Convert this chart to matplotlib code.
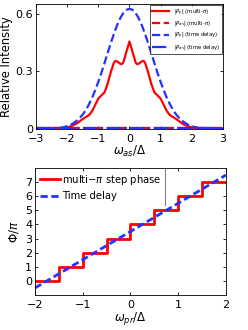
import numpy as np
import matplotlib
matplotlib.use('Agg')
import matplotlib.pyplot as plt

# top panel: spectra
w_as = [-3.0, -2.5, -2.4, -2.3, -2.2, -2.1, -2.0, -1.9, -1.8, -1.7, -1.6, -1.5, -1.4, -1.3, -1.2, -1.1,
        -1.0, -0.9, -0.8, -0.7, -0.6, -0.5, -0.45, -0.4, -0.3, -0.25, -0.2, -0.1, 0.0,
        0.1, 0.2, 0.25, 0.3, 0.4, 0.45, 0.5, 0.6, 0.7, 0.8, 0.9, 1.0,
        1.1, 1.2, 1.3, 1.4, 1.5, 1.6, 1.7, 1.8, 1.9, 2.0, 2.1, 2.2, 2.3, 2.4, 2.5, 3.0]
pp_multi = [0.005, 0.005, 0.005, 0.006, 0.006, 0.007, 0.009, 0.013, 0.020, 0.028, 0.040, 0.052, 0.062, 0.072, 0.093, 0.125,
            0.158, 0.175, 0.190, 0.235, 0.295, 0.345, 0.354, 0.352, 0.340, 0.337, 0.345, 0.400, 0.455,
            0.400, 0.345, 0.337, 0.340, 0.352, 0.354, 0.345, 0.295, 0.235, 0.190, 0.175, 0.158,
            0.125, 0.093, 0.072, 0.062, 0.052, 0.040, 0.028, 0.020, 0.013, 0.009, 0.007, 0.006, 0.006, 0.005, 0.005, 0.005]
pp_delay = [0.0, 0.001, 0.002, 0.004, 0.006, 0.010, 0.015, 0.021, 0.030, 0.042, 0.057, 0.075, 0.099, 0.128, 0.162, 0.201,
            0.245, 0.292, 0.343, 0.395, 0.446, 0.494, 0.516, 0.538, 0.574, 0.589, 0.602, 0.619, 0.625,
            0.619, 0.602, 0.589, 0.574, 0.538, 0.516, 0.494, 0.446, 0.395, 0.343, 0.292, 0.245,
            0.201, 0.162, 0.128, 0.099, 0.075, 0.057, 0.042, 0.030, 0.021, 0.015, 0.010, 0.006, 0.004, 0.002, 0.001, 0.0]
pas_multi = [0.005] * len(w_as)
pas_delay = [0.003] * len(w_as)

# bottom panel: phase
w_pr = [-2.0, -1.5, -1.0, -0.5, 0.0, 0.5, 1.0, 1.5, 2.0]
step_phase = [0, 1, 2, 3, 4, 5, 6, 7, 7]
w_lin = [-2.0, 2.0]
delay_phase = [-0.5, 7.5]

plt.rcParams['font.family'] = 'DejaVu Sans'
plt.rcParams['mathtext.fontset'] = 'dejavusans'

fig = plt.figure(figsize=(2.48, 3.30), dpi=100)

ax1 = fig.add_axes([0.145, 0.609, 0.754, 0.379])
ax1.plot(w_as, pp_multi, '-', color='red', lw=1.6, label=r'$|P_p|$ (multi-$\pi$)')
ax1.plot(w_as, pas_multi, '--', color='red', lw=1.6, label=r'$|P_{as}|$ (multi-$\pi$)')
ax1.plot(w_as, pp_delay, '--', color='#2233ff', lw=1.6, label=r'$|P_p|$ (time delay)')
ax1.plot(w_as, pas_delay, '-.', color='#2233ff', lw=1.6, label=r'$|P_{as}|$ (time delay)')
ax1.set_xlim(-3, 3)
ax1.set_ylim(0, 0.65)
ax1.set_xticks([-3, -2, -1, 0, 1, 2, 3])
ax1.set_yticks([0, 0.3, 0.6])
ax1.set_yticklabels(['0', '0.3', '0.6'])
ax1.set_ylabel('Relative Intensity', fontsize=8.3, labelpad=1.5)
ax1.set_xlabel(r'$\omega_{as}/\Delta$', fontsize=8.5, labelpad=0)
leg1 = ax1.legend(loc='upper right', fontsize=3.8, frameon=True, fancybox=False,
                  edgecolor='black', handlelength=3.2, borderpad=0.45, labelspacing=0.45,
                  borderaxespad=0.15)
leg1.get_frame().set_linewidth(0.6)

ax2 = fig.add_axes([0.141, 0.106, 0.770, 0.385])
ax2.plot(w_pr, step_phase, '-', color='red', lw=2.0, drawstyle='steps-post', label=r'multi$-\pi$ step phase')
ax2.plot(w_lin, delay_phase, '--', color='#2233ff', lw=2.0, dashes=(2.6, 1.3), label='Time delay')
ax2.set_xlim(-2, 2)
ax2.set_ylim(-1, 8)
ax2.set_xticks([-2, -1, 0, 1, 2])
ax2.set_yticks(range(8))
ax2.set_ylabel(r'$\Phi/\pi$', fontsize=8.5, labelpad=3)
ax2.set_xlabel(r'$\omega_{pr}/\Delta$', fontsize=8.5, labelpad=0)
ax2.legend(loc='upper left', fontsize=7.2, frameon=False, handlelength=2.0,
           handletextpad=0.25, labelspacing=0.45, borderaxespad=0.3, borderpad=0.2)
ax2.plot([0.68, 0.68], [0.71, 1.0], transform=ax2.transAxes, color='gray', lw=0.8)

for ax in (ax1, ax2):
    ax.tick_params(direction='in', top=True, right=True, labelsize=8, length=2.5, width=0.6, pad=2)
    ax.tick_params(axis='x', pad=3.5)
    for s in ax.spines.values():
        s.set_linewidth(0.6)

fig.savefig('out.png', dpi=100)
